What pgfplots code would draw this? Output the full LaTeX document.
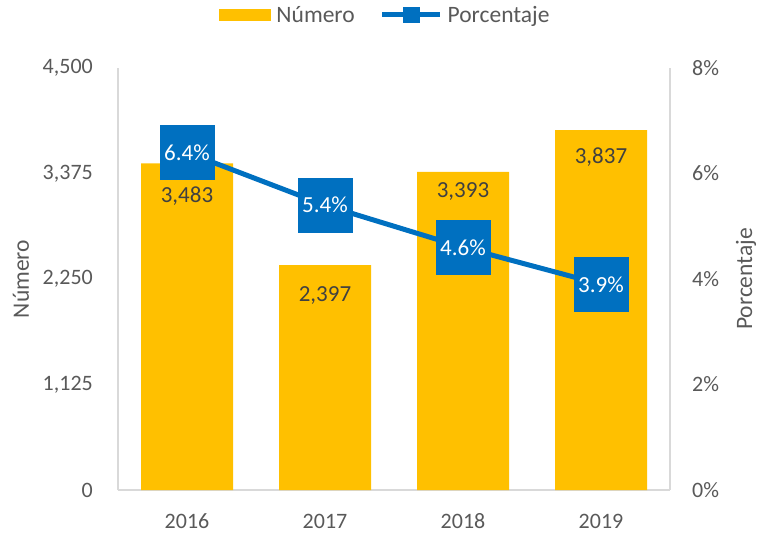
\documentclass[border=0pt]{standalone}
\usepackage{pgfplots}
\pgfplotsset{compat=1.18}
\usepackage{pgfplotstable}
\usepackage{fontspec}
\setmainfont{Carlito}
\usetikzlibrary{calc}
\definecolor{barY}{HTML}{FFC000}
\definecolor{lineB}{HTML}{0070C0}
\definecolor{txt}{HTML}{595959}
\definecolor{lbl}{HTML}{404040}
\definecolor{axl}{HTML}{D9D9D9}
\pgfplotsset{/pgf/number format/assume math mode=true}

\pgfplotstableread{
x y off
0 3483 33
1 2397 30
2 3393 20
3 3837 27
}\numtab

\pgfplotstableread{
x p
0 6.4
1 5.4
2 4.6
3 3.9
}\pcttab

\begin{document}
\begin{tikzpicture}
\begin{axis}[
  name=a,
  scale only axis, width=552pt, height=422pt,
  xmin=-0.5, xmax=3.5, ymin=0, ymax=4500,
  xtick={0,1,2,3}, xticklabels={2016,2017,2018,2019},
  ytick={0,1125,2250,3375,4500},
  axis x line*=bottom, axis y line*=left,
  axis line style={axl, line width=1.3pt, -},
  major tick length=0pt,
  tick label style={font=\fontsize{22}{26}\selectfont, text=txt},
  xticklabel style={anchor=center, inner sep=0pt, yshift=-31.5pt},
  yticklabel style={anchor=east, inner sep=0pt, xshift=-25pt},
  /pgf/number format/1000 sep={,},
  ylabel={Número},
  ylabel style={at={(axis description cs:-0.1757,0.5)}, anchor=center, font=\fontsize{23.5}{28}\selectfont, text=txt},
  legend columns=2,
  legend style={at={(axis description cs:0.5,1)}, anchor=center, yshift=53pt, xshift=-9.5pt,
    draw=none, fill=none, inner sep=0pt, font=\fontsize{23.5}{28}\selectfont, text=txt,
    nodes={inner sep=0pt},
    /tikz/every odd column/.append style={column sep=5pt},
    /tikz/every even column/.append style={column sep=25pt}},
]
\addplot[fill=barY, draw=none, ybar, bar width=92pt,
  visualization depends on={\thisrow{off} \as \off},
  nodes near coords={\pgfmathprintnumber{\pgfplotspointmeta}},
  every node near coord/.append style={anchor=center, yshift=-\off pt, text=lbl, font=\fontsize{23}{27}\selectfont},
  legend image code/.code={\fill[barY] (0pt,-6pt) rectangle (52pt,6pt);}
] table[x=x, y=y] {\numtab};
\addlegendentry{Número}
\addlegendimage{legend image code/.code={\draw[lineB, line width=5pt] (0pt,0pt) -- (58pt,0pt); \fill[lineB] (21pt,-7.5pt) rectangle (37pt,7.5pt);}}
\addlegendentry{Porcentaje}
\end{axis}

\begin{axis}[
  scale only axis, width=552pt, height=422pt,
  xmin=-0.5, xmax=3.5, ymin=0, ymax=8,
  axis x line=none, axis y line*=right,
  axis line style={axl, line width=1.3pt, -},
  major tick length=0pt,
  ytick={0,2,4,6,8},
  yticklabel={\pgfmathprintnumber{\tick}\%},
  tick label style={font=\fontsize{22}{26}\selectfont, text=txt},
  yticklabel style={anchor=west, inner sep=0pt, xshift=22pt},
  ylabel={Porcentaje},
  ylabel style={at={(axis description cs:1.1377,0.5)}, anchor=center, font=\fontsize{23.5}{28}\selectfont, text=txt},
]
\addplot[lineB, line width=5pt, mark=none,
  nodes near coords={\pgfmathprintnumber[fixed,precision=1,fixed zerofill]{\pgfplotspointmeta}\%},
  every node near coord/.append style={anchor=center, fill=lineB, text=white, minimum width=55pt, minimum height=55pt, inner sep=0pt, font=\fontsize{23}{27}\selectfont}
] table[x=x, y=p] {\pcttab};
\end{axis}
\pgfresetboundingbox
\path[use as bounding box] ($(a.south west)+(-118pt,-47pt)$) rectangle ($(a.north east)+(88pt,68pt)$);
\end{tikzpicture}
\end{document}
